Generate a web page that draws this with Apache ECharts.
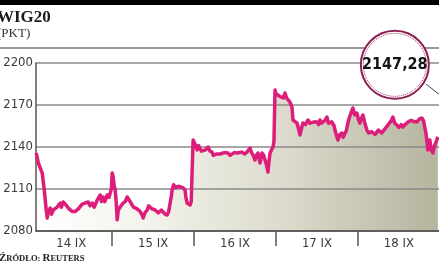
<!DOCTYPE html>
<html><head><meta charset="utf-8">
<script src="https://cdn.jsdelivr.net/npm/echarts@6/dist/echarts.min.js"></script>
<style>html,body{margin:0;padding:0;background:#fff}#c{width:439px;height:268px}</style>
</head><body><div id="c"></div>
<script>
const dayLabels = ['14 IX','15 IX','16 IX','17 IX','18 IX'];
const yTicks = [2080, 2110, 2140, 2170, 2200];
const lastValue = 2147.28;
// time in trading days (day boundaries at integers: 14 IX = [0,1), ...)
const times = [
0.073,0.098,0.12,0.146,0.171,0.195,0.207,0.22,0.244,0.26,0.28,0.3,0.329,0.35,0.366,0.38,0.402,0.43,0.451,0.47,0.488,0.51,0.524,0.55,0.573,0.59,0.61,0.63,0.646,0.67,0.707,0.73,0.756,0.78,0.817,0.854,0.87,0.89,0.91,0.939,0.96,0.976,0.99,
1.0,1.012,1.025,1.037,1.05,1.061,1.075,1.098,1.115,1.134,1.16,1.183,1.195,1.22,1.244,1.26,1.28,1.3,1.317,1.34,1.366,1.378,1.4,1.427,1.445,1.463,1.48,1.5,1.525,1.549,1.565,1.585,1.6,1.622,1.645,1.671,1.69,1.707,1.72,1.732,1.75,1.768,1.78,1.793,1.81,1.829,1.86,1.89,1.9,1.915,1.935,1.951,1.965,1.976,1.988,
2.0,2.012,2.037,2.055,2.073,2.09,2.11,2.14,2.171,2.195,2.22,2.235,2.256,2.275,2.293,2.32,2.354,2.385,2.415,2.44,2.463,2.49,2.524,2.555,2.585,2.615,2.646,2.665,2.683,2.7,2.72,2.744,2.76,2.78,2.805,2.82,2.829,2.85,2.866,2.885,2.902,2.915,2.927,2.945,2.963,2.975,2.988,
3.0,3.024,3.05,3.073,3.09,3.11,3.13,3.146,3.17,3.195,3.207,3.23,3.256,3.275,3.293,3.31,3.329,3.36,3.39,3.415,3.439,3.47,3.5,3.52,3.537,3.555,3.573,3.6,3.622,3.64,3.659,3.68,3.695,3.71,3.72,3.74,3.756,3.78,3.805,3.82,3.841,3.86,3.878,3.89,3.902,3.92,3.939,3.96,3.988,
4.005,4.024,4.04,4.061,4.085,4.11,4.13,4.146,4.165,4.183,4.21,4.232,4.25,4.268,4.29,4.305,4.33,4.354,4.37,4.39,4.41,4.427,4.45,4.476,4.5,4.512,4.53,4.549,4.575,4.598,4.615,4.634,4.65,4.671,4.695,4.72,4.75,4.78,4.8,4.817,4.83,4.841,4.854,4.865,4.878,4.895,4.915,4.93,4.939,4.95,4.963,4.976
];
const values = [
2135.7,2128.6,2130,2121.4,2109.3,2095,2089.3,2093,2096.4,2092,2095,2094,2097.1,2098,2100,2097,2100.7,2099,2098.6,2096,2096.4,2094,2092.9,2094,2093.6,2096,2096.4,2099,2098.6,2100,2100.7,2098,2100,2097,2102.1,2105.7,2101,2104.3,2101,2105.7,2104,2107.1,2110,
2121.4,2118.6,2112,2109.3,2100,2088,2095,2097.1,2098,2100,2101,2104.3,2105.7,2101,2100,2097,2097.1,2096,2096.4,2094,2091.4,2089.3,2093,2095,2098,2098.6,2096,2096.4,2095,2095,2093,2092.9,2095,2095,2092,2091.4,2094,2095,2104,2109.3,2113,2114.3,2111,2110.7,2112,2110.7,2111,2109.3,2104,2100,2099,2098.6,2101,2102.1,2145,
2145,2142,2137.9,2141,2140,2137,2136.4,2138,2140,2137,2136.4,2134,2132.9,2135,2136.4,2135,2135.7,2136,2135.7,2134,2134.3,2136,2135.7,2136,2136.4,2135,2136.4,2137,2139.3,2136,2134.3,2130.7,2134,2135.7,2128.6,2133,2135.7,2134,2130.7,2127,2122.1,2130,2135.7,2137,2140,2144,2180.7,
2178,2179.3,2176,2177.1,2175,2178.6,2175,2173.6,2172,2168.6,2159.3,2158,2157.1,2153,2148.6,2153,2157.1,2156,2159.3,2157,2157.1,2158,2157.9,2156,2159.3,2157,2157.1,2159,2161.4,2157,2155.7,2158,2159.3,2155,2152.1,2148,2145,2149,2150,2147,2147.1,2152,2157.1,2160,2161.4,2165,2167.9,2163,2164.3,
2160,2157.1,2160,2162.9,2157,2152.1,2150,2148.6,2151,2150.7,2149,2150,2152,2152.1,2150,2150.7,2153,2154.3,2156,2157.1,2159,2161.4,2157,2155.7,2154,2154.3,2156,2154.3,2156,2157.1,2158,2157.9,2159,2159.3,2158,2157.9,2160,2160.7,2159,2159.3,2150,2145,2137.9,2142,2145,2138,2135.7,2140,2140,2143,2145,2147.28
];
const data = times.map((t, i) => [t, values[i]]);
const lastPoint = data[data.length - 1];

const chart = echarts.init(document.getElementById('c'));
const labelFont = "'DejaVu Sans Condensed', 'DejaVu Sans', sans-serif";
chart.setOption({
  animation: false,
  grid: { left: 36, right: 0, top: 63, bottom: 37 },
  xAxis: {
    type: 'value', min: 0.07, max: 4.99, z: 5,
    axisLine: { show: true, lineStyle: { color: '#4a4a4a', width: 1.5 } },
    axisTick: { show: true, customValues: [1, 2, 3, 4], length: 15, lineStyle: { color: '#555', width: 1.5 } },
    axisLabel: { customValues: [0.5, 1.5, 2.5, 3.5, 4.5], formatter: v => dayLabels[Math.floor(v)], margin: 6,
      fontSize: 13, color: '#3a3a3a', fontFamily: labelFont },
    splitLine: { show: false }
  },
  yAxis: {
    type: 'value', min: yTicks[0], max: yTicks[yTicks.length - 1], interval: 30, z: 2,
    axisLine: { show: true, lineStyle: { color: '#555', width: 1.5 } },
    axisTick: { show: false },
    axisLabel: { margin: 3, fontSize: 13, color: '#3a3a3a', fontFamily: labelFont, formatter: v => String(v) },
    splitLine: { lineStyle: { color: '#8a8a8a', width: 1.5 } }
  },
  series: [
    { type: 'line', data: data, symbol: 'none', z: 1, lineStyle: { opacity: 0, width: 0 },
      areaStyle: { opacity: 1, color: { type: 'linear', x: 0, y: 0, x2: 1, y2: 0,
        colorStops: [{ offset: 0, color: '#ffffff' }, { offset: 0.3, color: '#f2f1ea' }, { offset: 0.65, color: '#d9d8c9' }, { offset: 1, color: '#b5b49e' }] } } },
    { type: 'line', data: data, symbol: 'none', z: 4,
      lineStyle: { color: '#dc1d7a', width: 3.5, join: 'round' },
      markPoint: {
        symbol: 'circle', silent: true,
        data: [
          { coord: lastPoint, symbolSize: 68, symbolOffset: [-43, -72],
            itemStyle: { color: '#fff', borderColor: '#8e1f55', borderWidth: 2 },
            label: { show: true, position: 'inside', formatter: () => lastValue.toFixed(2).replace('.', ','),
              fontSize: 16, fontWeight: 'bold', color: '#151515',
              fontFamily: "'DejaVu Sans Condensed', sans-serif" } },
          { coord: lastPoint, symbolSize: 63, symbolOffset: [-43, -72],
            itemStyle: { color: 'rgba(0,0,0,0)', borderColor: '#8e1f55', borderWidth: 1, borderType: 'dotted' },
            label: { show: false } }
        ]
      }
    }
  ],
  graphic: [
    { type: 'rect', shape: { x: 0, y: 0, width: 439, height: 5 }, style: { fill: '#000' } },
    { type: 'line', shape: { x1: 0, y1: 48, x2: 439, y2: 48 }, style: { stroke: '#999', lineWidth: 2 } },
    { type: 'text', left: -3, top: 9, style: { text: 'WIG20', font: "bold 17px 'Liberation Serif', serif", fill: '#1a1a1a' } },
    { type: 'text', left: -3, top: 27, style: { text: '(PKT)', font: "13px 'Liberation Serif', serif", fill: '#333' } },
    { type: 'text', left: -1, top: 253, style: { rich: { a: { font: "bold 11px 'Liberation Serif', serif", fill: '#222' }, b: { font: "bold 8.5px 'Liberation Serif', serif", fill: '#222' } },
        text: '{a|Ź}{b|RÓDŁO: }{a|R}{b|EUTERS}' } },
    { type: 'line', z: 10, shape: { x1: 426, y1: 84, x2: 445, y2: 99 }, style: { stroke: '#444', lineWidth: 1 } }
  ]
});
</script></body></html>
